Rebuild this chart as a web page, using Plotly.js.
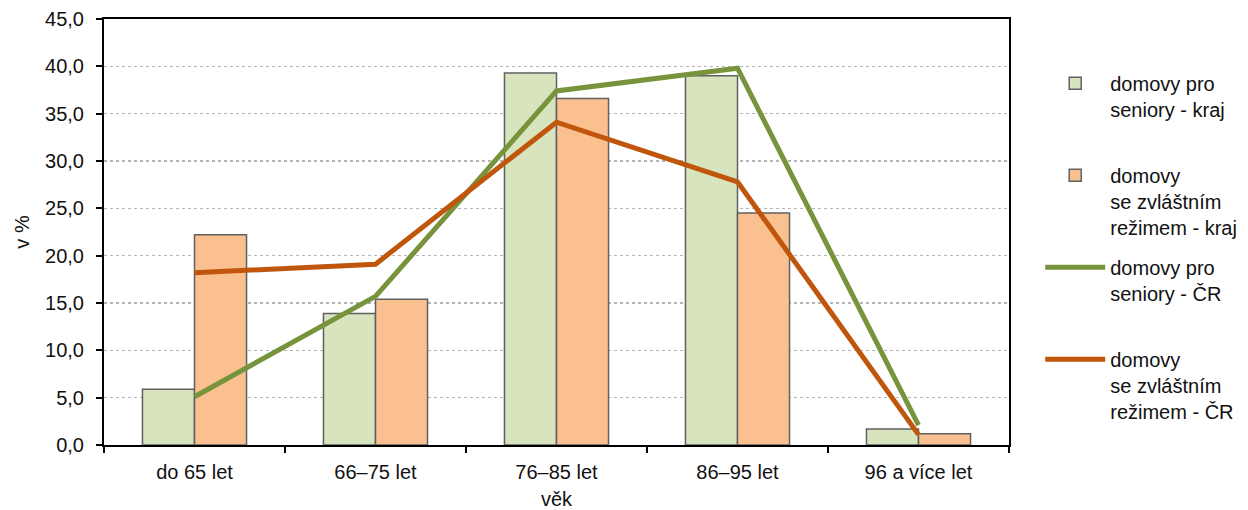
<!DOCTYPE html>
<html>
<head>
<meta charset="utf-8">
<script src="https://cdn.plot.ly/plotly-3.0.1.min.js"></script>
<style>html,body{margin:0;padding:0;background:#fff;}#chart{width:1248px;height:510px;}</style>
</head>
<body>
<div id="chart"></div>
<script>
var categories = ["do 65 let", "66–75 let", "76–85 let", "86–95 let", "96 a více let"];
var seniorKraj = [5.9, 13.9, 39.3, 39.0, 1.7];
var zvlastniKraj = [22.2, 15.4, 36.6, 24.5, 1.2];
var seniorCR = [5.1, 15.7, 37.4, 39.8, 2.1];
var zvlastniCR = [18.2, 19.1, 34.1, 27.8, 1.1];
var seriesNames = [
  "domovy pro<br>seniory - kraj<br> ",
  "domovy<br>se zvláštním<br>režimem - kraj",
  "domovy pro<br>seniory - ČR<br> ",
  "domovy<br>se zvláštním<br>režimem - ČR"
];

var font = "Liberation Sans, Arial, sans-serif";
var traces = [
  {type: "bar", name: seriesNames[0], x: categories, y: seniorKraj, legendgroup: "a",
   marker: {color: "#D7E4BD", line: {color: "#606060", width: 1.5}}},
  {type: "bar", name: seriesNames[1], x: categories, y: zvlastniKraj, legendgroup: "b",
   marker: {color: "#FAC090", line: {color: "#606060", width: 1.5}}},
  {type: "scatter", mode: "lines", name: seriesNames[2], x: categories, y: seniorCR, legendgroup: "c",
   line: {color: "#77933C", width: 5}},
  {type: "scatter", mode: "lines", name: seriesNames[3], x: categories, y: zvlastniCR, legendgroup: "d",
   line: {color: "#BF560B", width: 5}}
];

var layout = {
  width: 1248, height: 510,
  margin: {l: 104, r: 239, t: 19, b: 65, autoexpand: false},
  paper_bgcolor: "#fff", plot_bgcolor: "#fff",
  separators: ", ",
  font: {family: font, size: 20, color: "#111"},
  barmode: "group", bargap: 0.425, bargroupgap: 0,
  showlegend: true,
  legend: {x: 1.0345, xanchor: "left", y: 0.895, yanchor: "top", valign: "top",
           itemwidth: 60,
           traceorder: "grouped", tracegroupgap: 11, font: {family: font, size: 20, color: "#111"},
           bgcolor: "rgba(0,0,0,0)"},
  xaxis: {
    type: "category", tickson: "boundaries", ticks: "outside", ticklen: 6, tickwidth: 2, tickcolor: "#000",
    showline: true, linecolor: "#000", linewidth: 2, mirror: true, showgrid: false,
    ticklabelstandoff: 8,
    title: {text: "věk", font: {family: font, size: 20}, standoff: 10}
  },
  yaxis: {
    range: [0, 45], dtick: 5, tick0: 0, tickformat: ".1f",
    ticks: "outside", ticklen: 6, tickwidth: 2, tickcolor: "#000",
    showline: true, linecolor: "#000", linewidth: 2, mirror: true,
    showgrid: true, gridcolor: "#B5B5B5", griddash: "dot", gridwidth: 1.2,
    zeroline: false, ticklabelstandoff: 8,
    title: {text: "v %", font: {family: font, size: 20}, standoff: 10}
  }
};

Plotly.newPlot("chart", traces, layout, {displayModeBar: false, staticPlot: true});
</script>
</body>
</html>
